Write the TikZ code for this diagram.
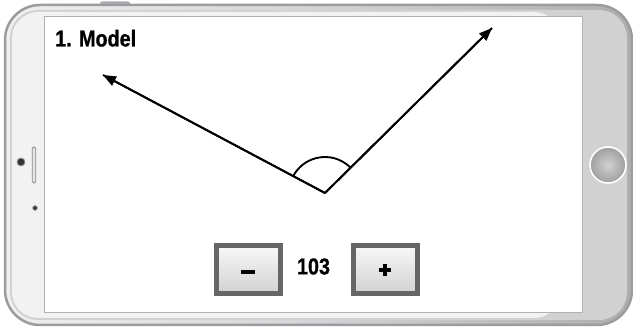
\documentclass[tikz,border=0pt]{standalone}
\usepackage{fontspec}
\setmainfont{Liberation Sans}
\newfontfamily\narrowbold[FakeStretch=0.86,FakeBold=0.8]{Liberation Sans Bold}
\usetikzlibrary{arrows.meta,angles,shadings}
\definecolor{bodygray}{HTML}{D4D4D6}
\definecolor{bodyedge}{HTML}{9C9CA0}
\definecolor{btnedge}{HTML}{666666}
\begin{document}
\begin{tikzpicture}[x=1pt,y=1pt,
  ray/.style={line width=1.9pt,-{Triangle[length=13pt,width=10pt]}},
  keybtn/.style={draw=btnedge,line width=5pt,minimum width=64pt,minimum height=48pt,
    top color=white!94!gray,bottom color=black!18,inner sep=0pt},
  signbar/.style={fill=black,inner sep=0pt},
  lbl/.style={font=\narrowbold\fontsize{23}{23}\selectfont,inner sep=0pt}]
\useasboundingbox (0,0) rectangle (633,327);
% phone body
\fill[bodyedge!85,rounded corners=2pt] (100,318) rectangle (130,325.5);
\draw[bodyedge,line width=2.5pt,left color=white!88!gray,right color=black!32,middle color=bodygray,rounded corners=35pt]
  (5,2) rectangle (632,322);
\fill[black!18,rounded corners=28pt] (10,7) rectangle (627,317);
\fill[white!90!gray,rounded corners=26pt] (12,9) rectangle (560,315);
% screen
\node[draw=black!30,line width=0.8pt,fill=white,minimum width=538pt,minimum height=296pt,inner sep=0pt,anchor=south west] (screen) at (44,14) {};
% side details
\node[circle,fill=black!80,draw=black!40,line width=0.8pt,minimum size=8pt,inner sep=0pt] (cam) at (21,165) {};
\node[draw=black!45,fill=black!10,line width=0.8pt,rounded corners=1.5pt,minimum width=3.5pt,minimum height=36pt,inner sep=0pt] (slot) at (34,162) {};
\node[circle,fill=black!75,draw=black!30,line width=0.6pt,minimum size=5pt,inner sep=0pt] (mic) at (35,119) {};
% home button
\node[circle,draw=white,line width=1.6pt,minimum size=36pt,inner sep=0pt,inner color=black!18,outer color=black!38] (home) at (608,162) {};
% title
\node[lbl,anchor=base west] (title) at (55,280.5) {1. Model};
% angle
\coordinate (V) at (325,134);
\coordinate (L) at (103,252);
\coordinate (R) at (492,299);
\draw[ray] (V) -- (L);
\draw[ray] (V) -- (R);
\draw[line width=1.9pt,line join=round] (L) -- (V) -- (R);
\pic[draw,line width=1.9pt,angle radius=36pt] {angle = R--V--L};
% controls
\node[keybtn] (minus) at (248,57) {};
\node[keybtn] (plus) at (385,57) {};
\fill ([shift={(-7,-2)}]minus.center) ++(0,-2.5) rectangle ++(14,4);
\fill ([shift={(-6,-1.75)}]plus.center) rectangle ++(12,3.5);
\fill ([shift={(-1.75,-6)}]plus.center) rectangle ++(3.5,12);
\node[lbl] (value) at (313.5,60.5) {103};
\end{tikzpicture}
\end{document}
